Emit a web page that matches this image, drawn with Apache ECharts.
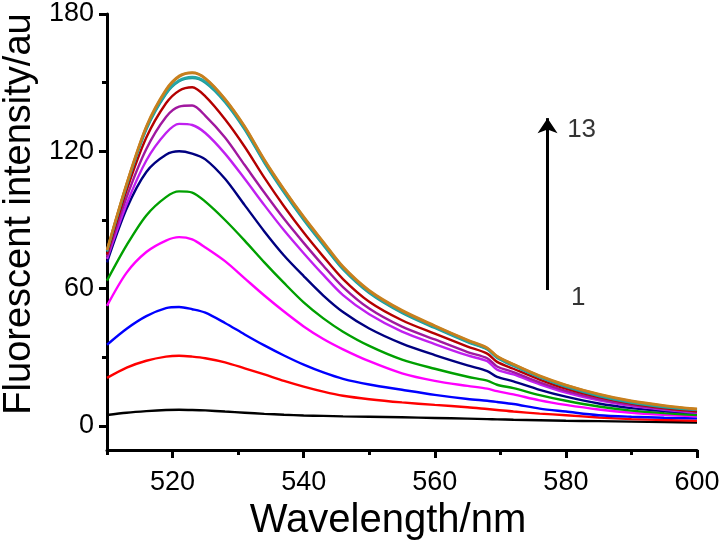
<!DOCTYPE html>
<html>
<head>
<meta charset="utf-8">
<script src="https://cdn.jsdelivr.net/npm/echarts@6/dist/echarts.min.js"></script>
<style>
  html, body { margin: 0; padding: 0; background: #ffffff; }
  #chart { width: 721px; height: 541px; }
</style>
</head>
<body>
<div id="chart"></div>
<script>
// ---- Data ----
const wavelengths = [510,513,516,519,521,523,525,528,531,534,537,540,543,546,550,555,560,565,568,569.5,572,576,580,585,590,595,600];

const curve1  = [4.8,5.8,6.5,7,7.1,7,6.8,6.3,5.8,5.3,4.9,4.6,4.4,4.2,4,3.8,3.5,3.2,3,2.9,2.7,2.5,2.3,2.1,1.9,1.7,1.5];
const curve2  = [21,25.5,28.5,30.3,30.7,30.3,29.6,27.8,25.2,22.5,19.7,17.2,15,13.2,11.7,10.3,9.2,8.2,7.4,7,6.3,5.4,4.7,3.7,3,2.6,2.3];
const curve3  = [35.5,42.5,48,51.5,52,51,49.5,45,40,35.2,30.8,26.8,23.4,20.6,18.1,15.8,13.6,11.8,11,10.5,9.6,7.6,6.3,4.7,4,3.6,3.3];
const curve4  = [52.5,67,76,81,82.5,81.5,78,72,64.5,57,50,43.5,38,33.5,28.3,23,19.7,17.5,16.3,15.2,13.8,11.2,9.2,7.2,5.8,4.9,4.2];
const curve5  = [63.5,79,92,100,102.5,102,98,90,81,71.5,62.5,54,47,41.2,35,29,25,21.5,19.8,18,16.5,13.5,11,8.5,6.7,5.6,4.8];
const curve6  = [71.5,95,111,118.5,120,119,116.5,108,96.5,85,74.5,65.5,57,49.8,42.6,36,31,26.5,24,21.5,19.5,15.8,12.8,9.8,7.8,6.5,5.7];
const curve7  = [73,97,116,128,132,131.5,128,119,108,96.5,85.5,75.5,66,57.2,48.8,41.2,35.8,30.8,28.3,24.6,22.5,18.2,14.6,11.2,8.8,7.1,5.8];
const curve8  = [74,100,121,135,139.5,140,135.5,126,114,102,90.5,80,70,60.7,51.3,43.4,37.8,32.3,29.6,26,23.5,19,15.3,11.8,9.2,7.4,6.1];
const curve9  = [75,103,126,141,146.5,148,144,134,122,108.5,96,84.5,74,64.2,54.3,46.2,40.3,34.7,31.6,28,25,20.3,16.3,12.6,9.8,7.8,6.4];
const curve10 = [76.2,105,129.5,145,150.6,152,150,141.5,129.5,115,102,90,79,68.4,58.1,49.4,42.8,36.6,33.4,29.7,26.2,21.2,17.1,13.1,10.1,8.2,6.9];
const curve11 = [76.5,105.5,130,145.5,151,152.5,150.5,142,130,115.5,102.5,90.5,79.5,68.8,58.5,49.8,43.2,37,33.7,30,26.5,21.5,17.5,13.5,10.5,8.5,7.2];
const curve12 = [76.8,105.8,130.6,146.6,152.6,154.2,151.7,142.7,130.7,116.2,103.2,91.2,80.2,69.4,59,50.3,43.6,37.4,34,30.4,26.9,21.8,17.8,13.8,10.8,8.8,7.3];
const curve13 = [77,106,131,147,153,154.5,152,143,131,116.5,103.5,91.5,80.5,69.7,59.3,50.6,43.9,37.6,34.2,30.6,27,22,18,14,11,9,7.5];

const curves = [curve1,curve2,curve3,curve4,curve5,curve6,curve7,curve8,curve9,curve10,curve11,curve12,curve13];
const curveNames = ['1','2','3','4','5','6','7','8','9','10','11','12','13'];
const curveColors = ['#000000','#ff0000','#0000ff','#ff00ff','#00a000','#000080','#c020f0','#a0189f','#b40000','#1c9c9c','#26a6a6','#c07a1e','#c8801e'];

const xMajorTicks = [520,540,560,580,600];
const xMinorTicks = [510,530,550,570,590];
const yMajorTicks = [0,60,120,180];
const yMinorTicks = [30,90,150];

// arrow annotation (from series 1 to series 13)
const arrowX = 577.2;
const arrowFrom = 59.4;
const arrowTo = 134.5;
const labelTop = { text: '13', x: 582.4, y: 129.5 };
const labelBottom = { text: '1', x: 581.9, y: 56.2 };

// ---- Chart ----
const chart = echarts.init(document.getElementById('chart'));
const FONT = 'Liberation Sans, Arial, sans-serif';

const lineSeries = curves.map((c, i) => ({
  name: curveNames[i],
  type: 'line',
  xAxisIndex: 0,
  yAxisIndex: 0,
  showSymbol: false,
  smooth: 0.3,
  animation: false,
  lineStyle: { color: curveColors[i], width: 2.4 },
  itemStyle: { color: curveColors[i] },
  data: wavelengths.map((w, k) => [w, c[k]])
}));

lineSeries.push({
  type: 'scatter',
  xAxisIndex: 0,
  yAxisIndex: 0,
  symbolSize: 0,
  animation: false,
  data: [[labelTop.x, labelTop.y, labelTop.text], [labelBottom.x, labelBottom.y, labelBottom.text]],
  label: {
    show: true,
    position: 'inside',
    formatter: p => p.data[2],
    color: '#000',
    textBorderWidth: 0,
    textBorderColor: 'transparent',
    fontFamily: FONT,
    fontSize: 26
  },
  markLine: {
    silent: true,
    animation: false,
    symbol: ['none', 'arrow'],
    symbolSize: 15,
    label: { show: false },
    lineStyle: { color: '#000', width: 3, type: 'solid' },
    data: [[{ coord: [arrowX, arrowFrom] }, { coord: [arrowX, arrowTo] }]]
  }
});

const option = {
  animation: false,
  backgroundColor: '#ffffff',
  grid: { left: 107, right: 24, top: 14, bottom: 91, containLabel: false, outerBoundsMode: 'none' },
  xAxis: [
    {
      type: 'value', min: 510, max: 600,
      name: 'Wavelength/nm', nameLocation: 'middle', nameGap: 49,
      nameTextStyle: { fontFamily: FONT, fontSize: 40, color: '#000', padding: [0, 28, 0, 0] },
      axisLine: { show: true, onZero: false, lineStyle: { color: '#000', width: 3 } },
      axisTick: { show: true, customValues: xMajorTicks, length: 8, lineStyle: { color: '#000', width: 3 } },
      axisLabel: { show: true, customValues: xMajorTicks, margin: 19, fontFamily: FONT, fontSize: 27, color: '#000' },
      splitLine: { show: false }
    },
    {
      type: 'value', min: 510, max: 600, position: 'bottom',
      axisLine: { show: false, onZero: false },
      axisTick: { show: true, customValues: xMinorTicks, length: 5, lineStyle: { color: '#000', width: 3 } },
      axisLabel: { show: false },
      splitLine: { show: false }
    }
  ],
  yAxis: [
    {
      type: 'value', min: -10.5, max: 180,
      name: 'Fluorescent intensity/au', nameLocation: 'middle', nameGap: 68, nameRotate: 90,
      nameTextStyle: { fontFamily: FONT, fontSize: 38, color: '#000', padding: [0, 0, 0, 36] },
      axisLine: { show: true, onZero: false, lineStyle: { color: '#000', width: 3 } },
      axisTick: { show: true, customValues: yMajorTicks, length: 8, lineStyle: { color: '#000', width: 3 } },
      axisLabel: { show: true, customValues: yMajorTicks, margin: 13, fontFamily: FONT, fontSize: 27, color: '#000' },
      splitLine: { show: false }
    },
    {
      type: 'value', min: -10.5, max: 180, position: 'left',
      axisLine: { show: false, onZero: false },
      axisTick: { show: true, customValues: yMinorTicks, length: 5, lineStyle: { color: '#000', width: 3 } },
      axisLabel: { show: false },
      splitLine: { show: false }
    }
  ],
  series: lineSeries
};

chart.setOption(option);
</script>
</body>
</html>
